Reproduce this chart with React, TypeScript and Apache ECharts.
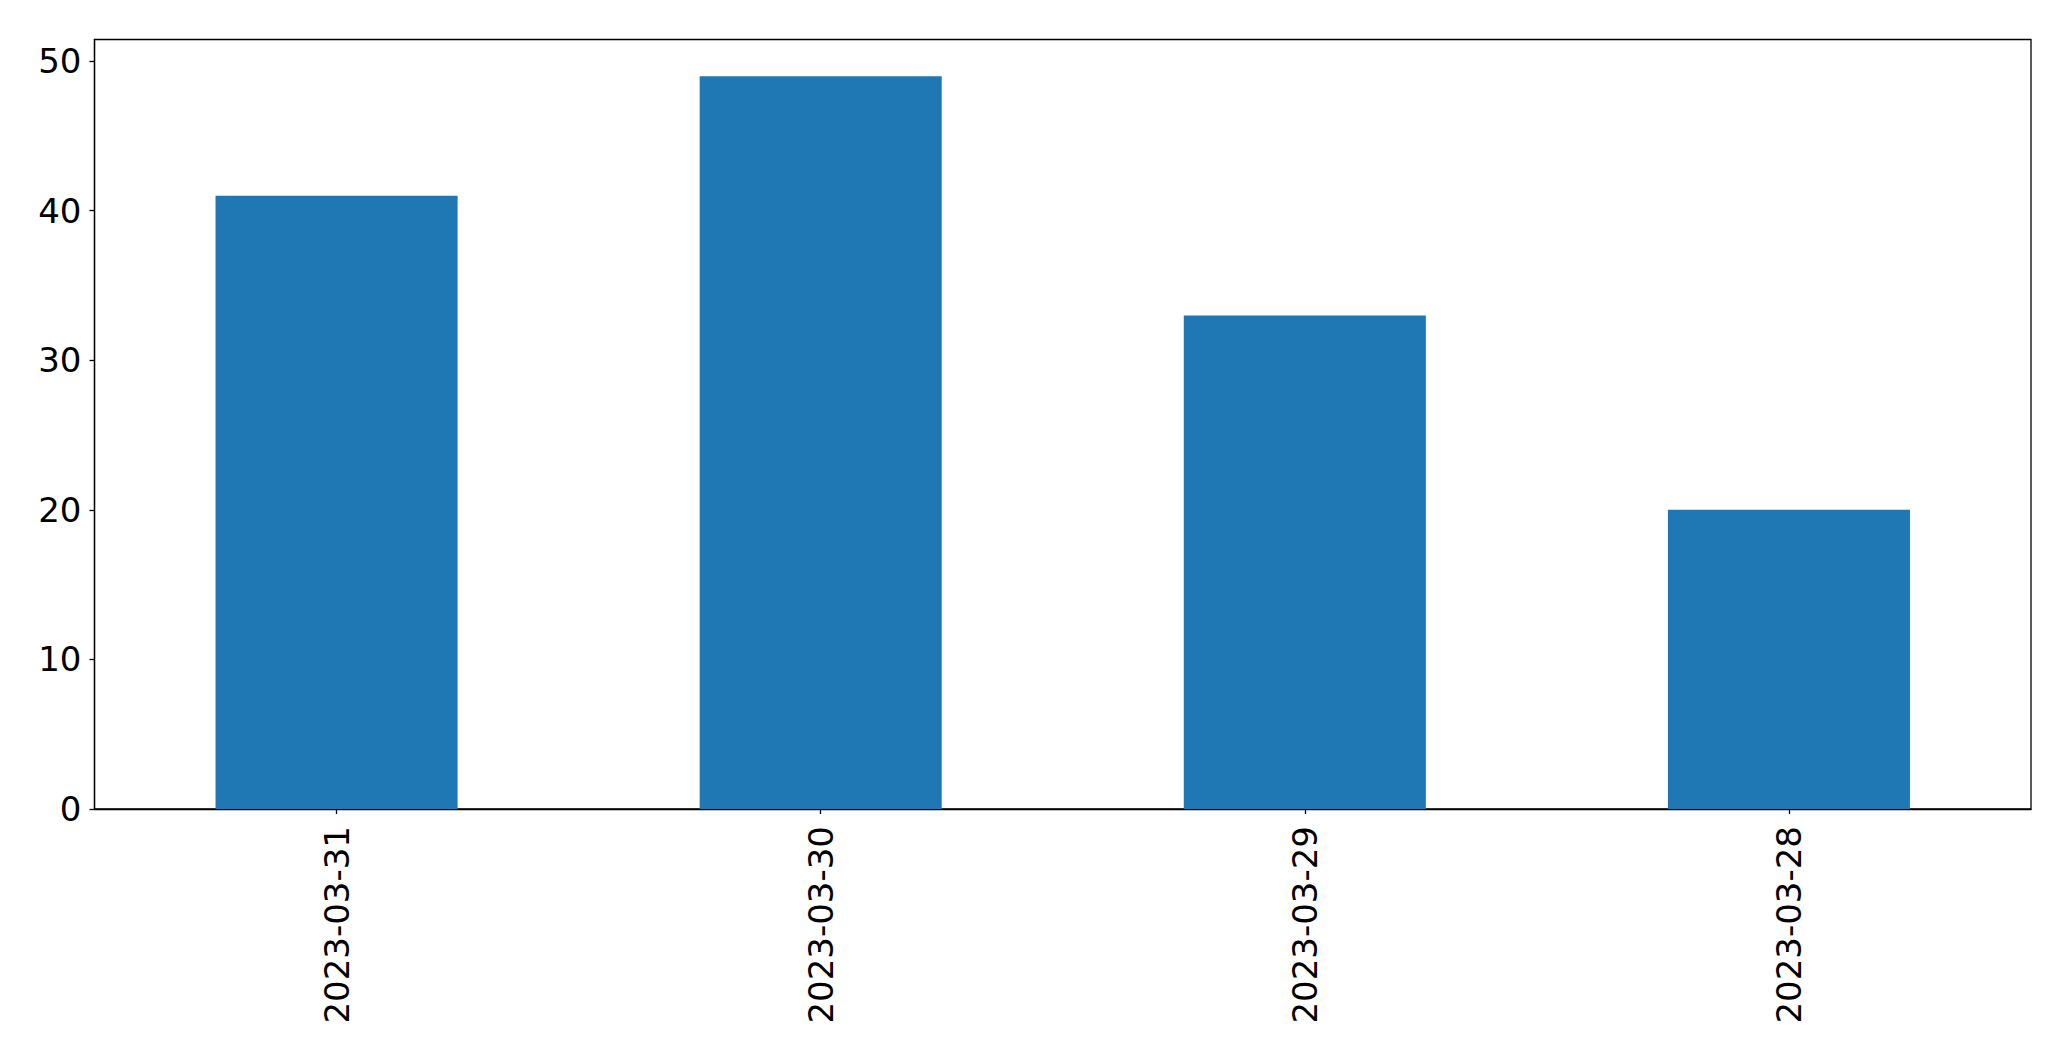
import React, { useEffect, useRef } from "react";
import * as echarts from "echarts";

const categories = ["2023-03-31", "2023-03-30", "2023-03-29", "2023-03-28"];
const values = [41, 49, 33, 20];
const yTicks = [0, 10, 20, 30, 40, 50];
const yMax = 51.45;

export default function App() {
  const ref = useRef<HTMLDivElement>(null);
  useEffect(() => {
    if (!ref.current) return;
    const chart = echarts.init(ref.current, undefined, { renderer: "svg" });
    const font = "DejaVu Sans";
    chart.setOption({
      animation: false,
      backgroundColor: "#ffffff",
      grid: {
        left: 94.5,
        top: 39.5,
        right: 40,
        bottom: 252,
        show: true,
        borderColor: "#000000",
        borderWidth: 1.3,
        backgroundColor: "transparent",
      },
      xAxis: {
        type: "category",
        data: categories,
        boundaryGap: true,
        axisLine: { show: true, lineStyle: { color: "#000000", width: 1.3 } },
        axisTick: { show: true, alignWithLabel: true, length: 5, lineStyle: { color: "#000000", width: 1.3 } },
        axisLabel: {
          rotate: 90,
          margin: 17,
          color: "#000000",
          fontFamily: font,
          fontSize: 34,
        },
        splitLine: { show: false },
      },
      yAxis: {
        type: "value",
        min: 0,
        max: yMax,
        interval: 10,
        axisLine: { show: true, lineStyle: { color: "#000000", width: 1.3 } },
        axisTick: { show: true, length: 5, customValues: yTicks, lineStyle: { color: "#000000", width: 1.3 } },
        axisLabel: {
          customValues: yTicks,
          margin: 13,
          color: "#000000",
          fontFamily: font,
          fontSize: 34,
        },
        splitLine: { show: false },
      },
      series: [
        {
          type: "bar",
          data: values,
          barWidth: "50%",
          itemStyle: { color: "#1f77b4" },
        },
      ],
    });
    return () => chart.dispose();
  }, []);
  return (
    <div
      ref={ref}
      style={{ position: "fixed", left: 0, top: 0, width: 2071, height: 1061 }}
    />
  );
}
